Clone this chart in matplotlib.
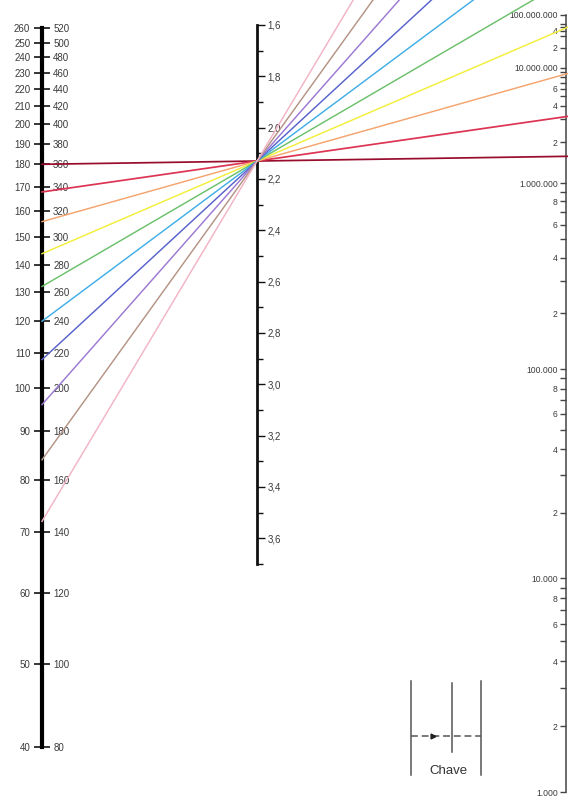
import numpy as np
import matplotlib
matplotlib.use("Agg")
import matplotlib.pyplot as plt
from matplotlib import font_manager
from matplotlib.lines import Line2D
from matplotlib.ticker import NullLocator

# escala da esquerda (dois jogos de rótulos)
left_values = [40, 50, 60, 70, 80, 90, 100, 110, 120, 130, 140, 150,
               160, 170, 180, 190, 200, 210, 220, 230, 240, 250, 260]
left_values_2x = [80, 100, 120, 140, 160, 180, 200, 220, 240, 260, 280, 300,
                  320, 340, 360, 380, 400, 420, 440, 460, 480, 500, 520]

# graduação da escala da esquerda (log10 valor -> altura a partir do 40)
left_cal_val = [40, 50, 80, 100, 140, 180, 200, 260]
left_cal_pos = [0, 82.4, 266.7, 359.0, 481.7, 582.4, 622.7, 718.4]

# escala do meio
mid_major = [1.6, 1.8, 2.0, 2.2, 2.4, 2.6, 2.8, 3.0, 3.2, 3.4, 3.6]
mid_minor = [1.7, 1.9, 2.1, 2.3, 2.5, 2.7, 2.9, 3.1, 3.3, 3.5, 3.7]

# escala da direita
right_decades = [1e3, 1e4, 1e5, 1e6, 1e7, 1e8]
right_decade_labels = ["1.000", "10.000", "100.000", "1.000.000",
                       "10.000.000", "100.000.000"]
right_sub_steps = {1e3: [2, 3, 4, 5, 6, 7, 8, 9], 1e4: [2, 3, 4, 5, 6, 7, 8, 9],
                   1e5: [2, 3, 4, 5, 6, 7, 8, 9], 1e6: [2, 3, 4, 5, 6, 7, 8, 9],
                   1e7: [2, 3, 4, 5, 6]}
right_sub_shown = {1e3: [2, 4, 6, 8], 1e4: [2, 4, 6, 8], 1e5: [2, 4, 6, 8],
                   1e6: [2, 4, 6], 1e7: [2, 4]}

# graduação não uniforme da escala direita (log10 N -> altura)
right_cal_log = [3, 3.5, 4, 4.5, 5, 5.5, 6, 6.5, 7, 7.5, 8]
right_cal_pos = [0, 110, 215, 324, 425, 518, 612, 680, 728, 761, 781]

# retas de leitura: valor na escala da esquerda, todas pelo mesmo ponto do meio
line_start = [180, 168, 156, 144, 132, 120, 108, 96, 84, 72]
line_colors = ["#980c2c", "#dc3452", "#f4a46e", "#f2ee3a", "#6cc06c",
               "#42aee6", "#5862cc", "#9c78d2", "#b49484", "#f2b4c4"]
pivot = 2.13

names = {f.name for f in font_manager.fontManager.ttflist}
if "Liberation Sans Narrow" in names:
    plt.rcParams["font.family"] = "Liberation Sans Narrow"
    fs_left, fs_mid, fs_right = 7.8, 7.8, 7.2
else:
    plt.rcParams["font.family"] = "Liberation Sans"
    fs_left, fs_mid, fs_right = 7.0, 7.0, 6.2
txt = "#3a3a3a"

W, H = 568, 798
fig = plt.figure(figsize=(W / 100, H / 100), dpi=100)
fig.patch.set_facecolor("white")


def fy(py):
    return 1 - py / H


def bare(ax, keep):
    ax.patch.set_visible(False)
    ax.xaxis.set_visible(False)
    for s in ["top", "bottom", "left", "right"]:
        ax.spines[s].set_visible(s == keep)


def left_fwd(v):
    v = np.clip(np.asarray(v, dtype=float), 1e-12, None)
    return np.interp(np.log10(v), np.log10(left_cal_val), left_cal_pos)


def left_inv(p):
    return 10 ** np.interp(p, left_cal_pos, np.log10(left_cal_val))


# --- eixo da esquerda ---
axL = fig.add_axes([42 / W, fy(746.7), 1e-4, (746.7 - 28.3) / H])
bare(axL, "left")
axL.set_xlim(0, 1)
axL.set_yscale("function", functions=(left_fwd, left_inv))
axL.set_ylim(40, 260)
axL.set_yticks(left_values, [str(v) for v in left_values])
axL.yaxis.set_minor_locator(NullLocator())
axL.spines["left"].set_linewidth(3)
axL.spines["left"].set_color("black")
axL.tick_params(axis="y", which="major", direction="inout", length=11, width=1.1,
                color="black", labelsize=fs_left, labelcolor=txt, pad=3.0)

axL2 = axL.twinx()
bare(axL2, None)
axL2.set_yscale("function", functions=(lambda v: left_fwd(np.asarray(v) / 2),
                                       lambda p: 2 * left_inv(p)))
axL2.set_ylim(80, 520)
axL2.set_yticks(left_values_2x, [str(v) for v in left_values_2x])
axL2.yaxis.set_minor_locator(NullLocator())
axL2.tick_params(axis="y", which="major", length=0, pad=8,
                 labelsize=fs_left, labelcolor=txt)

# --- eixo do meio ---
axM = fig.add_axes([257 / W, fy(564), 1e-4, (564 - 25) / H])
bare(axM, "right")
axM.set_xlim(0, 1)
axM.set_ylim(3.7, 1.6)
axM.yaxis.tick_right()
axM.set_yticks(mid_major, [f"{v:.1f}".replace(".", ",") for v in mid_major])
axM.set_yticks(mid_minor, minor=True)
axM.spines["right"].set_linewidth(2)
axM.spines["right"].set_color("#111111")
axM.tick_params(axis="y", which="major", length=6, width=1, color="#111111",
                labelsize=fs_mid, labelcolor=txt, pad=1.5)
axM.tick_params(axis="y", which="minor", length=4.5, width=1, color="#111111")


# --- eixo da direita ---
def right_fwd(v):
    v = np.clip(np.asarray(v, dtype=float), 1e-12, None)
    return np.interp(np.log10(v), right_cal_log, right_cal_pos)


def right_inv(p):
    return 10 ** np.interp(p, right_cal_pos, right_cal_log)


axR = fig.add_axes([566 / W, fy(792), 1e-4, (792 - 15) / H])
bare(axR, "left")
axR.set_xlim(0, 1)
axR.set_yscale("function", functions=(right_fwd, right_inv))
axR.set_ylim(1e3, 1e8)
axR.set_yticks(right_decades, right_decade_labels)
sub_vals, sub_labels = [], []
for d, steps in right_sub_steps.items():
    for k in steps:
        sub_vals.append(k * d)
        sub_labels.append(str(k) if k in right_sub_shown[d] else "")
axR.set_yticks(sub_vals, sub_labels, minor=True)
axR.spines["left"].set_linewidth(1.1)
axR.spines["left"].set_color("#444444")
axR.tick_params(axis="y", which="both", length=4.5, width=1, color="#444444",
                labelsize=fs_right, labelcolor=txt, pad=1.5)

# --- retas de leitura ---
inv = fig.transFigure.inverted()
xb, yb = axM.transData.transform((1, pivot))
for v, c in zip(line_start, line_colors):
    xa, ya = axL.transData.transform((0, v))
    slope = (yb - ya) / (xb - xa)
    xe = fig.bbox.width
    ye = ya + slope * (xe - xa)
    pts = inv.transform([(xa, ya), (xe, ye)])
    lw = 1.25 if v >= 168 else 1.05
    fig.add_artist(Line2D(pts[:, 0], pts[:, 1], color=c, lw=lw,
                          transform=fig.transFigure))

# --- chave ---
axK = fig.add_axes([400 / W, fy(790), 95 / W, 115 / H])
axK.set_xlim(400, 495)
axK.set_ylim(790, 675)
axK.axis("off")
kc = "#555555"
axK.plot([410.5, 410.5], [681, 775], color=kc, lw=1.1)
axK.plot([451.5, 451.5], [683, 752], color=kc, lw=1.1)
axK.plot([481.5, 481.5], [681, 775], color=kc, lw=1.1)
axK.plot([410.5, 481.5], [736, 736], color=kc, lw=1.1, dashes=(4.5, 2.5))
axK.plot([433], [736], marker=">", ms=3.5, color="#222222")
axK.text(448, 771, "Chave", ha="center", va="center", fontsize=9.5, color="#333333")

fig.savefig("out.png", dpi=100)
plt.close(fig)
